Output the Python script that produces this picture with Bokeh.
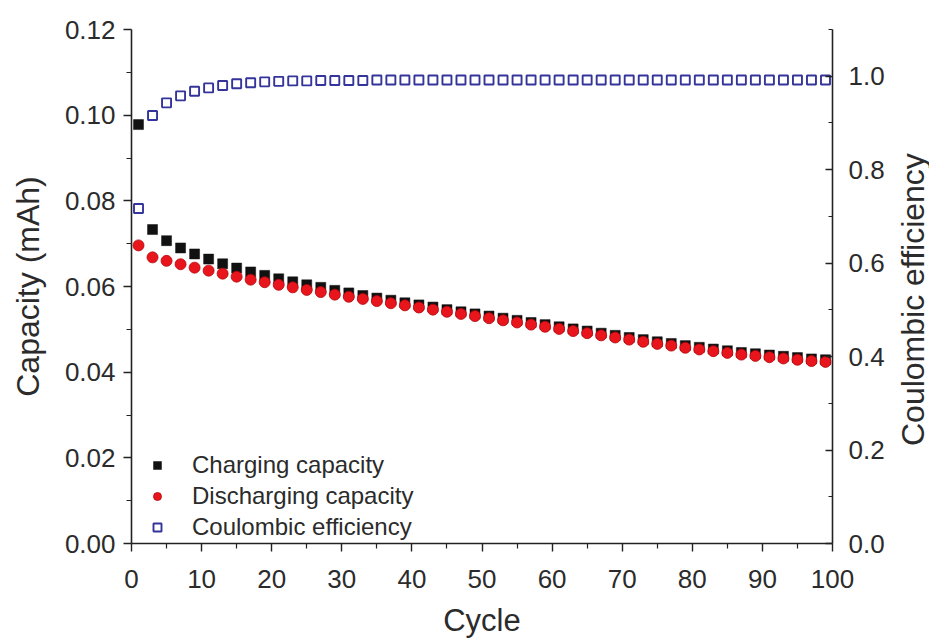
import math
from bokeh.plotting import figure
from bokeh.layouts import row
from bokeh.models import Range1d, LinearAxis, FixedTicker, Legend, LegendItem, NumeralTickFormatter
from bokeh.core.properties import value
from bokeh.embed import file_html
from bokeh.resources import INLINE

# ---- data ----
cycles = list(range(1, 100, 2))

charging = [0.0978, 0.0733, 0.0707, 0.0690, 0.0676, 0.0664, 0.0653, 0.0643, 0.0634, 0.0626,
            0.0618, 0.0611, 0.0604, 0.0598, 0.0591, 0.0585, 0.0579, 0.0573, 0.0568, 0.0562,
            0.0557, 0.0552, 0.0546, 0.0541, 0.0536, 0.0531, 0.0526, 0.0521, 0.0516, 0.0511,
            0.0506, 0.0501, 0.0496, 0.0491, 0.0486, 0.0481, 0.0476, 0.0471, 0.0467, 0.0462,
            0.0458, 0.0454, 0.0450, 0.0446, 0.0443, 0.0440, 0.0437, 0.0434, 0.0431, 0.0429]

discharging = [0.0696, 0.0668, 0.0660, 0.0652, 0.0644, 0.0637, 0.0630, 0.0623, 0.0616, 0.0610,
               0.0604, 0.0598, 0.0592, 0.0587, 0.0581, 0.0576, 0.0571, 0.0566, 0.0561, 0.0556,
               0.0551, 0.0546, 0.0541, 0.0536, 0.0531, 0.0526, 0.0521, 0.0516, 0.0511, 0.0506,
               0.0501, 0.0496, 0.0491, 0.0486, 0.0481, 0.0476, 0.0471, 0.0466, 0.0462, 0.0457,
               0.0453, 0.0449, 0.0445, 0.0441, 0.0438, 0.0435, 0.0432, 0.0429, 0.0426, 0.0424]

coulombic = [0.717, 0.916, 0.943, 0.958, 0.968, 0.975, 0.980, 0.984, 0.986, 0.988,
             0.989, 0.990, 0.990, 0.991, 0.991, 0.991, 0.991, 0.992, 0.992, 0.992,
             0.992, 0.992, 0.992, 0.992, 0.992, 0.992, 0.992, 0.992, 0.992, 0.992,
             0.992, 0.992, 0.992, 0.992, 0.992, 0.992, 0.992, 0.992, 0.992, 0.992,
             0.992, 0.992, 0.992, 0.992, 0.992, 0.992, 0.992, 0.992, 0.992, 0.992]

x_major = [0, 10, 20, 30, 40, 50, 60, 70, 80, 90, 100]
x_minor = [5, 15, 25, 35, 45, 55, 65, 75, 85, 95]
y_major = [0.0, 0.02, 0.04, 0.06, 0.08, 0.10, 0.12]
y_minor = [0.01, 0.03, 0.05, 0.07, 0.09, 0.11]
ce_major = [0.0, 0.2, 0.4, 0.6, 0.8, 1.0]
ce_minor = [0.1, 0.3, 0.5, 0.7, 0.9, 1.1]
right_title = "Coulombic efficiency"

FONT = "Liberation Sans"
TXT = "#2b2b2b"
AX = "#222222"

MAIN_W, TITLE_W, H = 895, 34, 641

p = figure(width=MAIN_W, height=H, output_backend="svg", toolbar_location=None,
           x_range=Range1d(0, 100), y_range=Range1d(0, 0.12),
           min_border_left=131, min_border_right=63, min_border_top=29, min_border_bottom=98,
           background_fill_color="white", border_fill_color="white")
p.extra_y_ranges = {"ce": Range1d(0, 1.1)}
p.outline_line_color = None
p.grid.visible = False

def style_axis(ax, tick_in=False):
    ax.axis_line_color = AX
    ax.axis_line_width = 1.6
    ax.major_tick_line_color = AX
    ax.minor_tick_line_color = AX
    ax.major_tick_line_width = 1.4
    ax.minor_tick_line_width = 1.2
    if tick_in:
        ax.major_tick_in, ax.major_tick_out = 7, 0
        ax.minor_tick_in, ax.minor_tick_out = 4, 0
    else:
        ax.major_tick_in, ax.major_tick_out = 0, 8
        ax.minor_tick_in, ax.minor_tick_out = 0, 5
    ax.major_label_text_font = FONT
    ax.major_label_text_font_size = "26px"
    ax.major_label_text_color = TXT
    ax.axis_label_text_font = FONT
    ax.axis_label_text_font_size = "31px"
    ax.axis_label_text_font_style = "normal"
    ax.axis_label_text_color = TXT

xa = p.xaxis[0]
xa.ticker = FixedTicker(ticks=x_major, minor_ticks=x_minor)
xa.axis_label = "Cycle"
style_axis(xa)
xa.major_label_standoff = 18
xa.axis_label_standoff = 12

ya = p.yaxis[0]
ya.ticker = FixedTicker(ticks=y_major, minor_ticks=y_minor)
ya.formatter = NumeralTickFormatter(format="0.00")
ya.axis_label = "Capacity (mAh)"
style_axis(ya)
ya.axis_label_text_font_size = "32px"
ya.major_label_standoff = 8
ya.axis_label_standoff = 16

ra = LinearAxis(y_range_name="ce")
ra.ticker = FixedTicker(ticks=ce_major, minor_ticks=ce_minor)
ra.formatter = NumeralTickFormatter(format="0.0")
style_axis(ra, tick_in=True)
ra.major_label_standoff = 16
p.add_layout(ra, "right")

r_ch = p.scatter(cycles, charging, marker="square", size=10, fill_color="#111111",
                 line_color="#111111", line_width=0.5)
r_dis = p.scatter(cycles, discharging, marker="circle", size=11, fill_color="#e8161c",
                  line_color="#b3060b", line_width=0.8)
r_ce = p.scatter(cycles, coulombic, marker="square", size=9, fill_color="white",
                 line_color="#34349a", line_width=1.9, y_range_name="ce")

legend = Legend(items=[LegendItem(label="Charging capacity", renderers=[r_ch]),
                       LegendItem(label="Discharging capacity", renderers=[r_dis]),
                       LegendItem(label="Coulombic efficiency", renderers=[r_ce])],
                location=(16, 2))
legend.background_fill_alpha = 0
legend.border_line_color = None
legend.padding = 4
legend.margin = 0
legend.spacing = 3
legend.glyph_width = 20
legend.glyph_height = 20
legend.label_height = 20
legend.label_standoff = 25
legend.label_text_font = FONT
legend.label_text_font_size = "24px"
legend.label_text_color = TXT
p.add_layout(legend)

# narrow strip to the right holding the right-axis title (reads bottom-to-top)
t = figure(width=TITLE_W, height=H, output_backend="svg", toolbar_location=None,
           x_range=Range1d(0, 1), y_range=Range1d(0.0, 1.1), min_border=0,
           min_border_top=29, min_border_bottom=98,
           background_fill_color="white", border_fill_color="white")
t.axis.visible = False
t.grid.visible = False
t.outline_line_color = None
t.text(x=[0.5], y=[0.522], text=[right_title], angle=math.pi / 2,
       text_align="center", text_baseline="middle",
       text_font=value(FONT), text_font_size=value("32px"), text_color=TXT)

layout = row(p, t, spacing=0)
open("out.html", "w").write(file_html(layout, INLINE))
